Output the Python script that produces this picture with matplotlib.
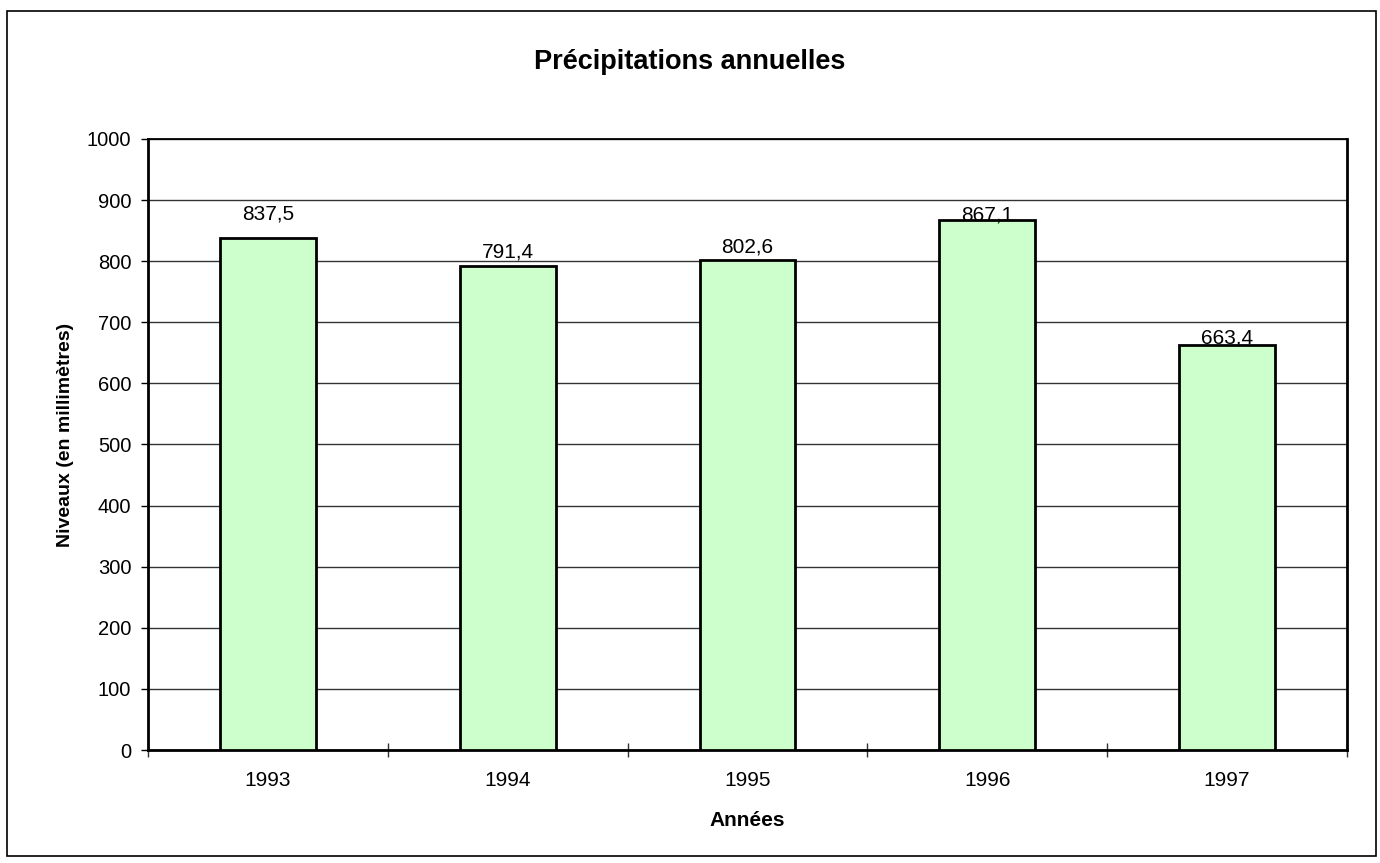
import matplotlib
matplotlib.use('Agg')
import matplotlib.pyplot as plt
from matplotlib.patches import Rectangle
import numpy as np

plt.rcParams['font.family'] = ['Liberation Sans', 'DejaVu Sans']

years = ['1993', '1994', '1995', '1996', '1997']
rain = [837.5, 791.4, 802.6, 867.1, 663.4]
# how far (px) above each bar top the value label sits in the original
label_lift = [24, 14, 13, 5, 7]

fig = plt.figure(figsize=(13.8, 8.63), dpi=100)
fig.patches.append(Rectangle((7 / 1380, 7 / 863), 1369 / 1380, 845 / 863,
                             transform=fig.transFigure, fill=False,
                             edgecolor='black', linewidth=1.2))

ax = fig.add_axes([148 / 1380, 113 / 863, 1199 / 1380, 611 / 863])
x = np.arange(len(years)) + 0.5
ax.bar(x, rain, width=0.4, color='#CCFFCC', edgecolor='black', linewidth=2, zorder=3)

for xi, v, lift in zip(x, rain, label_lift):
    ax.annotate(('%.1f' % v).replace('.', ','), (xi, v), xytext=(0, lift),
                textcoords='offset pixels', ha='center', va='center',
                fontsize=15, zorder=4)

ax.set_xlim(0, len(years))
ax.set_ylim(0, 1000)
ax.set_yticks(np.arange(0, 1001, 100))
ax.yaxis.grid(True, color='#333333', linewidth=1)
ax.set_axisbelow(True)

ax.set_xticks(np.arange(0, len(years) + 1))
ax.set_xticklabels([])
ax.set_xticks(x, minor=True)
ax.set_xticklabels(years, minor=True)
ax.tick_params(axis='x', which='major', direction='inout', length=10, width=1, color='#333333')
ax.tick_params(axis='x', which='minor', length=0, pad=15, labelsize=15)
ax.tick_params(axis='y', direction='out', length=5, width=1, pad=7, labelsize=14.5)

for s in ax.spines.values():
    s.set_linewidth(2)
ax.spines['top'].set_linewidth(1.3)

ax.set_xlabel('Années', fontsize=15, fontweight='bold', labelpad=15)
ax.set_ylabel('Niveaux (en millimètres)', fontsize=14, fontweight='bold', labelpad=9)
ax.yaxis.label.set_y(0.515)
fig.text(0.5, 1 - 62 / 863, 'Précipitations annuelles', ha='center', va='center',
         fontsize=19.5, fontweight='bold')

fig.savefig('out.png', dpi=100)
